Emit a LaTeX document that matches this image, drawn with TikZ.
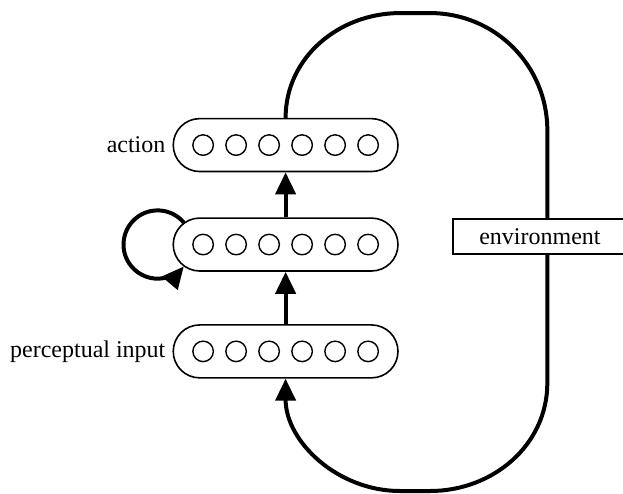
\documentclass[tikz,border=0pt]{standalone}
\usepackage{fontspec}
\setmainfont{Liberation Serif}
\usepackage{tikz}
\usetikzlibrary{
  arrows.meta,
  positioning,
  backgrounds
}

\begin{document}
\begin{tikzpicture}[
    layer/.style={
      rectangle,
      draw=black,
      line width=0.8pt,
      rounded corners=0.465cm,
      fill=white,
      minimum width=3.95cm,
      minimum height=0.93cm
    },
    unit/.style={
      circle,
      draw=black,
      line width=0.7pt,
      minimum size=0.36cm,
      inner sep=0pt
    },
    tag/.style={
      font=\fontsize{12}{14}\selectfont
    },
    envbox/.style={
      rectangle,
      draw=black,
      line width=1.1pt,
      fill=white,
      minimum width=3.06cm,
      minimum height=0.615cm,
      font=\fontsize{12}{14}\selectfont
    },
    arrow/.style={
      -{Triangle[length=11pt,width=10pt]},
      line width=2pt
    },
    feedback/.style={
      line width=2pt
    }
  ]
    \useasboundingbox (-5.02,-6.12) rectangle (5.93,2.55);

    % Layers from top to bottom
    \node[layer] (act) at (0, 0) {};
    \node[layer, below=0.79cm of act] (mid) {};
    \node[layer, below=0.92cm of mid] (per) {};

    % Six units in every layer
    \foreach \lay in {act, mid, per}
      \foreach \i in {1,...,6}
        \node[unit] (\lay-\i) at ([xshift={(\i-3.5)*0.58cm}]\lay.center) {};

    % Layer labels on the left
    \node[tag, left=0pt of act] {action};
    \node[tag, left=0pt of per] {perceptual input};

    % Feed-forward arrows
    \draw[arrow] (per.north) -- (mid.south);
    \draw[arrow] (mid.north) -- (act.south);

    % Recurrent loop on the hidden layer
    \coordinate (loopc) at ([xshift=-0.26cm]mid.west);
    \begin{scope}[on background layer]
      \draw[arrow] ([shift={(40:0.6cm)}]loopc) arc[start angle=40, end angle=320, radius=0.6cm];
    \end{scope}

    % Loop through the environment
    \draw[feedback, -{Triangle[length=11pt,width=10pt]}]
      (act.north) to[out=90, in=180] (2.01, 2.32) -- (2.54, 2.32)
      to[out=0, in=90] (4.6, 0.26) -- (4.6, -4.18)
      to[out=-90, in=0] (2.54, -6.08) -- (2.01, -6.08)
      to[out=180, in=-90] (per.south);
    \node[envbox] (env) at (4.47, -1.61) {environment};
  \end{tikzpicture}
\end{document}
